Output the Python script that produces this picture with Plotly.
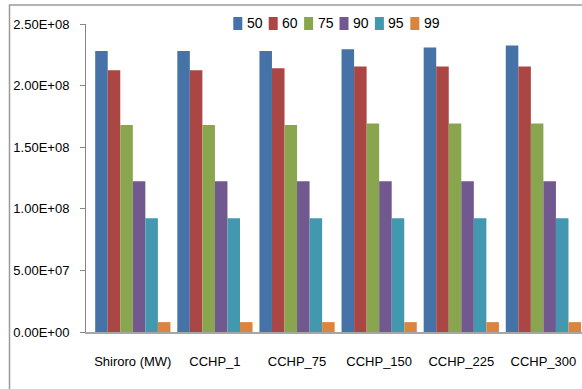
import plotly.graph_objects as go

categories = ["Shiroro (MW)", "CCHP_1", "CCHP_75", "CCHP_150", "CCHP_225", "CCHP_300"]
series_names = ["50", "60", "75", "90", "95", "99"]
s50 = [2.28e8, 2.28e8, 2.28e8, 2.295e8, 2.31e8, 2.325e8]
s60 = [2.125e8, 2.125e8, 2.14e8, 2.155e8, 2.155e8, 2.155e8]
s75 = [1.68e8, 1.68e8, 1.68e8, 1.693e8, 1.693e8, 1.693e8]
s90 = [1.223e8, 1.223e8, 1.223e8, 1.223e8, 1.223e8, 1.223e8]
s95 = [0.923e8, 0.923e8, 0.923e8, 0.923e8, 0.923e8, 0.923e8]
s99 = [8.0e6, 8.0e6, 8.0e6, 8.0e6, 8.0e6, 8.0e6]
y_ticks = [0, 5e7, 1e8, 1.5e8, 2e8, 2.5e8]
y_tick_labels = ["0.00E+00", "5.00E+07", "1.00E+08", "1.50E+08", "2.00E+08", "2.50E+08"]

colors = ["#4572A7", "#AA4643", "#89A54E", "#71588F", "#4198AF", "#DB843D"]
series = [s50, s60, s75, s90, s95, s99]

FONT = "Liberation Sans"
FS = 13
W, H = 582, 389
ML, MR, MT, MB = 86, 0, 0, 57
PW, PH = W - ML - MR, H - MT - MB
PLOT_TOP = 24  # pixel row of the 2.50E+08 tick


def px_x(px):
    return (px - ML) / PW


def px_y(py):
    return (H - MB - py) / PH


x_idx = list(range(len(categories)))

fig = go.Figure()
for name, vals, col in zip(series_names, series, colors):
    fig.add_trace(go.Bar(
        x=x_idx, y=vals, name=name,
        marker=dict(color=col, line=dict(width=0)),
        showlegend=False,
    ))

# legend drawn as keys + labels (Excel-style compact horizontal legend)
shapes = []
annotations = []
leg_x0, leg_step, leg_cy = 233.3, 35.4, 23.5
for i, (name, col) in enumerate(zip(series_names, colors)):
    sx = leg_x0 + i * leg_step
    shapes.append(dict(type="rect", xref="paper", yref="paper",
                       x0=px_x(sx), x1=px_x(sx + 9), y0=px_y(leg_cy + 6.5), y1=px_y(leg_cy - 6.5),
                       fillcolor=col, line=dict(width=0), layer="above"))
    annotations.append(dict(xref="paper", yref="paper", x=px_x(sx + 11.5), y=px_y(leg_cy),
                            xanchor="left", yanchor="middle", showarrow=False, text=name,
                            font=dict(family=FONT, size=14, color="#000000")))

# outer chart frame (continues past the right/bottom edges)
shapes.append(dict(type="rect", xref="paper", yref="paper",
                   x0=px_x(9.5), x1=px_x(640), y0=px_y(450), y1=px_y(5),
                   line=dict(color="#9A9A9A", width=1.5), fillcolor="rgba(0,0,0,0)", layer="above"))

fig.update_layout(
    width=W, height=H,
    margin=dict(l=ML, r=MR, t=MT, b=MB, autoexpand=False),
    paper_bgcolor="white", plot_bgcolor="white",
    barmode="group", bargap=0.084, bargroupgap=0,
    font=dict(family=FONT, size=FS, color="#000000"),
    showlegend=False,
    shapes=shapes, annotations=annotations,
    xaxis=dict(
        range=[-0.57, 5.47], tickmode="array", tickvals=x_idx, ticktext=categories,
        showgrid=False, zeroline=False, showline=True, linecolor="#A6A6A6", linewidth=2,
        ticks="", tickfont=dict(family=FONT, size=FS), ticklabelstandoff=16,
    ),
    yaxis=dict(
        domain=[0, (H - MB - PLOT_TOP) / PH],
        range=[0, 2.5e8], tickmode="array", tickvals=y_ticks, ticktext=y_tick_labels,
        showgrid=False, zeroline=False, showline=True, linecolor="#868686", linewidth=1,
        ticks="outside", ticklen=5, tickcolor="#868686",
        tickfont=dict(family=FONT, size=FS), ticklabelstandoff=8,
    ),
)

fig.write_html("out.html", config={"displayModeBar": False},
               post_script="document.body.style.margin='0';")
